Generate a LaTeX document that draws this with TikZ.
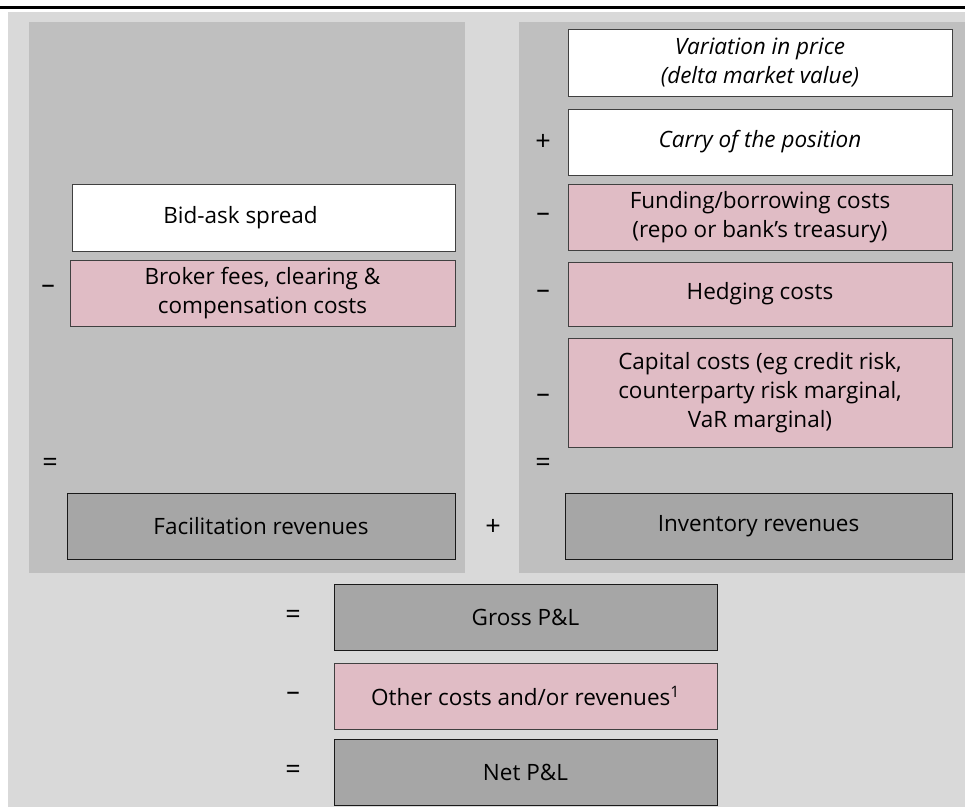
\documentclass[tikz,border=0pt]{standalone}
\usepackage{fontspec}
\setmainfont{Open Sans}
\definecolor{bglight}{HTML}{D9D9D9}
\definecolor{panel}{HTML}{BFBFBF}
\definecolor{darkbox}{HTML}{A6A6A6}
\definecolor{pinkbox}{HTML}{E0BCC5}
\definecolor{edge}{HTML}{404040}
\begin{document}
\begin{tikzpicture}[x=1pt,y=-1pt,
  every node/.style={font=\fontsize{22.5}{29}\selectfont},
  box/.style={draw=edge, line width=0.9pt, align=center, inner sep=0pt, minimum width=384pt, minimum height=66pt},
  whitebox/.style={box, fill=white},
  pinkb/.style={box, fill=pinkbox},
  darkb/.style={box, fill=darkbox, draw=black!90, line width=1pt},
  op/.style={inner sep=0pt, font=\fontsize{27}{29}\selectfont}
]
\useasboundingbox (0,0) rectangle (965,807);
% background
\fill[bglight] (8,12) rectangle (965,807);
\draw[line width=3pt] (0,7.5) -- (965,7.5);
\fill[panel] (29,22) rectangle (465,573);
\fill[panel] (519,22) rectangle (965,573);

% right column
\node[whitebox, minimum height=67pt] (var) at (760,62.5) {\itshape Variation in price\\\itshape (delta market value)};
\node[whitebox] (carry) at (760,142) {\itshape Carry of the position};
\node[pinkb] (fund) at (760,217) {Funding/borrowing costs\\(repo or bank’s treasury)};
\node[pinkb, minimum height=64pt] (hedge) at (760,294) {Hedging costs};
\node[pinkb, minimum height=109pt] (cap) at (760,392.5) {Capital costs (eg credit risk,\\counterparty risk marginal,\\VaR marginal)};
\node[darkb, minimum width=387pt] (inv) at (758.5,526) {Inventory revenues};

\node[op] (oc) at (543,142) {+};
\node[op] (of) at (543,217) {–};
\node[op] (oh) at (543,294) {–};
\node[op] (ocap) at (543,398) {–};
\node[op] (oeqr) at (543,465) {=};

% left column
\node[whitebox, minimum width=383pt, minimum height=67pt] (bid) at (263.5,217.5) {Bid-ask spread\hspace*{46pt}};
\node[pinkb, minimum width=385pt] (broker) at (262.5,293) {Broker fees, clearing \&\\compensation costs};
\node[darkb, minimum width=388pt] (fac) at (261,526) {Facilitation revenues};
\node[op] (ob) at (48,289) {–};
\node[op] (oeql) at (50,465) {=};

\node[op] (oplus) at (493,527) {+};

% bottom
\node[darkb, minimum width=383pt] (gross) at (525.5,617) {Gross P\&L};
\node[pinkb, minimum width=383pt] (other) at (525.5,696) {Other costs and/or revenues\textsuperscript{1}};
\node[darkb, minimum width=383pt] (net) at (525.5,772) {Net P\&L};
\node[op] (og) at (293,617) {=};
\node[op] (oo) at (293,696) {–};
\node[op] (on) at (293,772) {=};
\end{tikzpicture}
\end{document}
